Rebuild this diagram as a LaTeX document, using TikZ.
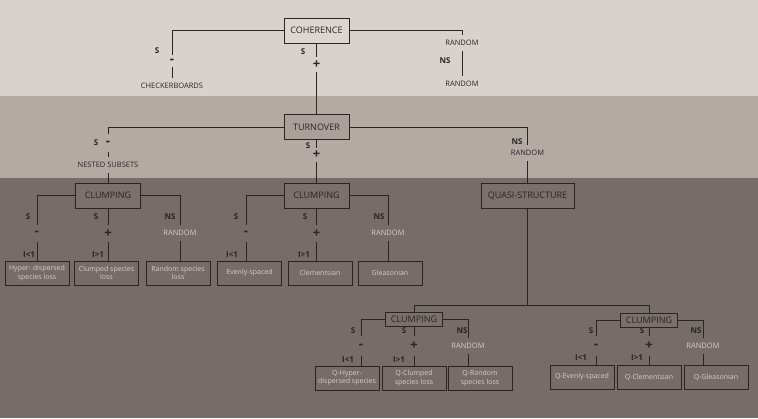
\documentclass[tikz,border=0pt]{standalone}
\usepackage{fontspec}
\setmainfont{Open Sans}
\usepackage{xcolor}
\usetikzlibrary{positioning}
\definecolor{bandtop}{HTML}{D9D1CB}
\definecolor{bandmid}{HTML}{B3AAA4}
\definecolor{bandlow}{HTML}{766C68}
\definecolor{ink}{HTML}{2A2422}
\definecolor{pale}{HTML}{D6CDC8}
\definecolor{boxtop}{HTML}{DDD6D0}
\definecolor{boxmid}{HTML}{A9A09A}
\definecolor{boxlow}{HTML}{7A706C}

\begin{document}
\begin{tikzpicture}[x=1pt, y=-1pt,
  box/.style={draw=ink, line width=1pt, minimum width=65pt, minimum height=25pt, inner sep=1pt, text=ink, font=\fontsize{9}{10}\selectfont},
  sbox/.style={box, minimum width=57pt, minimum height=14pt},
  leaf/.style={draw=ink, line width=1pt, minimum width=64pt, minimum height=24pt, inner sep=1pt, align=center, text=pale, font=\fontsize{7}{8.5}\selectfont},
  lbl/.style={inner sep=1pt, outer ysep=4pt, text=ink, font=\fontsize{7.5}{9}\selectfont},
  plbl/.style={lbl, text=pale},
  tag/.style={inner sep=0pt, text=ink, font=\bfseries\fontsize{8}{8}\selectfont},
  sign/.style={inner sep=0pt, minimum width=6pt, minimum height=#1, text=ink, font=\bfseries\fontsize{13}{13}\selectfont},
  sign/.default=14pt,
  link/.style={draw=ink, line width=1pt}
]
% background bands
\fill[bandtop] (0,0) rectangle (758,96);
\fill[bandmid] (0,96) rectangle (758,178);
\fill[bandlow] (0,178) rectangle (758,418);
\useasboundingbox (0,0) rectangle (758,418);

% coherence
\node[box, fill=boxtop] (coh) at (316.5,30.5) {COHERENCE};
\node[tag] (cohs1) at (157,51) {S};
\node[sign=12pt] (cohminus) at (172,61) {-};
\node[lbl] (checker) at (172,86) {CHECKERBOARDS};
\node[tag] (cohs2) at (303,52) {S};
\node[sign=15pt] (cohplus) at (316.5,64.5) {+};
\node[lbl] (cohrand) at (462,43) {RANDOM};
\node[tag] (cohns) at (445,61) {NS};
\node[lbl] (cohrand2) at (462,84) {RANDOM};

\draw[link] (coh.west) -| (cohminus.north);
\draw[link] (cohminus.south) -- (checker.north);
\draw[link] (coh.south) -- (cohplus.north);
\draw[link] (coh.east) -| (cohrand.north);
\draw[link] (cohrand.south) -- (cohrand2.north);

% turnover
\node[box, fill=boxmid] (turn) at (316.5,127) {TURNOVER};
\node[tag] (turns1) at (96,143) {S};
\node[sign=17pt] (turnminus) at (108,143) {-};
\node[lbl] (nested) at (108,165) {NESTED SUBSETS};
\node[tag] (turns2) at (308,146) {S};
\node[sign] (turnplus) at (316.5,155) {+};
\node[tag] (turnns) at (517,142) {NS};
\node[lbl] (turnrand) at (527.5,153) {RANDOM};
\node[box, fill=boxlow, minimum width=93pt] (quasi) at (527.5,195.5) {QUASI-STRUCTURE};

\draw[link] (cohplus.south) -- (turn.north);
\draw[link] (turn.west) -| (turnminus.north);
\draw[link] (turnminus.south) -- (nested.north);
\draw[link] (turn.south) -- (turnplus.north);
\draw[link] (turn.east) -| (turnrand.north);
\draw[link] (turnrand.south) -- (quasi.north);

% clumping under nested subsets
\node[box, fill=boxlow] (clumpa) at (108,195.5) {CLUMPING};
\node[tag] (as1) at (28,217) {S};
\node[sign=17pt] (aminus) at (37,233.5) {-};
\node[tag] (ai1) at (29,255) {I<1};
\node[leaf] (hyper) at (37,273) {Hyper- dispersed\\species loss};
\node[tag] (as2) at (96,217) {S};
\node[sign=17pt] (aplus) at (108,233.5) {+};
\node[tag] (ai2) at (98,255) {I>1};
\node[leaf] (clumped) at (106.5,273) {Clumped species\\loss};
\node[tag] (ans) at (170,217) {NS};
\node[plbl] (arand) at (180,233) {RANDOM};
\node[leaf] (randloss) at (178,273) {Random species\\loss};

\draw[link] (nested.south) -- (clumpa.north);
\draw[link] (clumpa.west) -| (aminus.north);
\draw[link] (aminus.south) -- (aminus.south |- hyper.north);
\draw[link] (clumpa.south) -- (aplus.north);
\draw[link] (aplus.south) -- (aplus.south |- clumped.north);
\draw[link] (clumpa.east) -| (arand.north);
\draw[link] (arand.south) -- (arand.south |- randloss.north);

% clumping under turnover +
\node[box, fill=boxlow] (clumpb) at (316.5,195.5) {CLUMPING};
\node[tag] (bs1) at (236,217) {S};
\node[sign=17pt] (bminus) at (246,233.5) {-};
\node[tag] (bi1) at (232,255) {I<1};
\node[leaf] (even) at (249.5,273) {Evenly-spaced};
\node[tag] (bs2) at (305,217) {S};
\node[sign=17pt] (bplus) at (316.5,233.5) {+};
\node[tag] (bi2) at (304,255) {I>1};
\node[leaf] (clem) at (320,273) {Clementsian};
\node[tag] (bns) at (379,217) {NS};
\node[plbl] (brand) at (388,233) {RANDOM};
\node[leaf] (gleas) at (390,273) {Gleasonian};

\draw[link] (turnplus.south) -- (clumpb.north);
\draw[link] (clumpb.west) -| (bminus.north);
\draw[link] (bminus.south) -- (bminus.south |- even.north);
\draw[link] (clumpb.south) -- (bplus.north);
\draw[link] (bplus.south) -- (bplus.south |- clem.north);
\draw[link] (clumpb.east) -| (brand.north);
\draw[link] (brand.south) -- (brand.south |- gleas.north);

% quasi-structure split
\coordinate (qsplit) at (527.5,305);
\node[sbox, fill=boxlow] (clumpd) at (414,319) {CLUMPING};
\node[sbox, fill=boxlow] (clumpe) at (649,320) {CLUMPING};

\draw[link] (quasi.south) -- (qsplit);
\draw[link] (qsplit) -| (clumpd.north);
\draw[link] (qsplit) -| (clumpe.north);

% lower left clumping
\node[tag] (ds1) at (353,331) {S};
\node[sign=19pt] (dminus) at (361,346) {-};
\node[tag] (di1) at (348,360) {I<1};
\node[leaf] (qhyper) at (347,378) {Q-Hyper-\\dispersed species};
\node[tag] (ds2) at (404,331) {S};
\node[sign=19pt] (dplus) at (414,346) {+};
\node[tag] (di2) at (399,360) {I>1};
\node[leaf] (qclump) at (414,378) {Q-Clumped\\species loss};
\node[tag] (dns) at (462,331) {NS};
\node[plbl] (drand) at (468,346) {RANDOM};
\node[leaf] (qrand) at (480,378) {Q-Random\\species loss};

\draw[link] (clumpd.west) -| (dminus.north);
\draw[link] (dminus.south) -- (dminus.south |- qhyper.north);
\draw[link] (clumpd.south) -- (dplus.north);
\draw[link] (dplus.south) -- (dplus.south |- qclump.north);
\draw[link] (clumpd.east) -| (drand.north);
\draw[link] (drand.south) -- (drand.south |- qrand.north);

% lower right clumping
\node[tag] (es1) at (591,331) {S};
\node[sign=19pt] (eminus) at (596,346) {-};
\node[tag] (ei1) at (581,358) {I<1};
\node[leaf] (qeven) at (582,377) {Q-Evenly-spaced};
\node[tag] (es2) at (642,331) {S};
\node[sign=19pt] (eplus) at (649,346) {+};
\node[tag] (ei2) at (637,358) {I>1};
\node[leaf] (qclem) at (649,377) {Q-Clementsian};
\node[tag] (ens) at (696,331) {NS};
\node[plbl] (erand) at (703,346) {RANDOM};
\node[leaf] (qgleas) at (716,377) {Q-Gleasonian};

\draw[link] (clumpe.west) -| (eminus.north);
\draw[link] (eminus.south) -- (eminus.south |- qeven.north);
\draw[link] (clumpe.south) -- (eplus.north);
\draw[link] (eplus.south) -- (eplus.south |- qclem.north);
\draw[link] (clumpe.east) -| (erand.north);
\draw[link] (erand.south) -- (erand.south |- qgleas.north);
\end{tikzpicture}
\end{document}
